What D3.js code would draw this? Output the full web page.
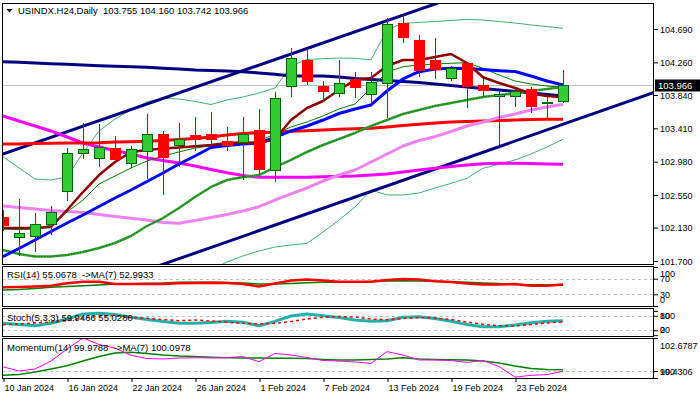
<!DOCTYPE html>
<html><head><meta charset="utf-8">
<script src="https://cdn.jsdelivr.net/npm/d3@7/dist/d3.min.js"></script>
<style>
html,body{margin:0;padding:0;background:#fff;}
svg{display:block;}
text{font-family:"Liberation Sans",Arial,sans-serif;fill:#000;}
</style></head><body>
<svg id="chart" width="700" height="400"></svg>
<script>
// ---------------- DATA ----------------
const symbol = "USINDX.H24,Daily";
const dates = ["2024-01-10","2024-01-11","2024-01-12","2024-01-15","2024-01-16","2024-01-17","2024-01-18","2024-01-19",
  "2024-01-22","2024-01-23","2024-01-24","2024-01-25","2024-01-26","2024-01-29","2024-01-30","2024-01-31",
  "2024-02-01","2024-02-02","2024-02-05","2024-02-06","2024-02-07","2024-02-08","2024-02-09","2024-02-12",
  "2024-02-13","2024-02-14","2024-02-15","2024-02-16","2024-02-19","2024-02-20","2024-02-21","2024-02-22",
  "2024-02-23","2024-02-26","2024-02-27","2024-02-28"];
const open  = [102.258,102.006,102.013,102.173,102.598,103.088,103.024,103.153,102.959,103.109,103.324,103.195,103.311,103.324,103.238,103.225,103.388,102.860,103.955,104.278,103.955,103.861,104.033,103.848,103.990,104.764,104.548,104.278,104.055,104.248,103.968,103.818,103.818,103.913,103.728,103.755];
const high  = [102.357,102.499,102.315,102.409,103.153,103.479,103.466,103.311,103.182,103.595,103.376,103.475,103.560,103.617,103.431,103.552,103.655,103.874,104.441,104.432,104.020,104.291,104.140,104.140,104.828,104.870,104.613,104.578,104.213,104.269,104.055,103.904,103.939,103.939,103.839,104.160];
const low   = [102.087,101.768,101.812,102.035,102.477,103.011,102.908,103.002,102.895,102.753,102.551,102.908,103.122,103.182,103.122,102.744,102.808,102.714,103.818,103.968,103.784,103.818,103.797,103.733,103.539,104.514,104.068,104.042,104.024,103.678,103.818,103.195,103.681,103.611,103.539,103.742];
const close = [102.155,102.057,102.173,102.328,103.088,103.140,103.165,103.011,103.140,103.333,103.031,103.268,103.268,103.268,103.195,103.333,102.882,103.797,104.312,104.011,103.882,103.990,103.939,104.003,104.742,104.578,104.149,104.171,104.184,103.952,103.895,103.852,103.882,103.689,103.745,103.966];

const maNavy    = [104.269,104.261,104.252,104.243,104.235,104.226,104.217,104.209,104.204,104.196,104.184,104.175,104.162,104.155,104.149,104.140,104.123,104.106,104.084,104.084,104.084,104.071,104.052,104.039,104.026,104.013,104.001,103.981,103.962,103.943,103.923,103.904,103.885,103.865,103.846,103.827];
const maRed     = [103.208,103.208,103.214,103.217,103.221,103.221,103.225,103.234,103.238,103.243,103.253,103.266,103.279,103.298,103.324,103.343,103.354,103.363,103.372,103.379,103.388,103.397,103.405,103.410,103.427,103.446,103.462,103.479,103.492,103.498,103.504,103.511,103.517,103.524,103.526,103.526];
const maMagenta = [103.569,103.504,103.440,103.376,103.298,103.221,103.169,103.124,103.079,103.028,102.995,102.963,102.924,102.879,102.838,102.802,102.779,102.779,102.779,102.779,102.787,102.792,102.796,102.808,102.821,102.847,102.873,102.895,102.918,102.937,102.954,102.959,102.959,102.957,102.950,102.946];
const maViolet  = [102.409,102.390,102.370,102.351,102.338,102.325,102.299,102.274,102.250,102.228,102.196,102.186,102.222,102.261,102.299,102.344,102.400,102.486,102.564,102.641,102.731,102.808,102.873,102.976,103.079,103.182,103.253,103.302,103.369,103.440,103.492,103.550,103.595,103.646,103.685,103.720];
const maBlue    = [101.756,101.861,101.971,102.080,102.190,102.293,102.402,102.512,102.615,102.725,102.834,102.950,103.053,103.163,103.189,103.208,103.221,103.292,103.376,103.440,103.517,103.601,103.659,103.711,103.891,104.046,104.140,104.175,104.184,104.181,104.168,104.153,104.142,104.084,104.020,103.968];
const maMaroon  = [102.125,102.125,102.125,102.138,102.357,102.589,102.808,102.976,103.105,103.131,103.150,103.163,103.178,103.195,103.221,103.227,103.217,103.272,103.517,103.672,103.762,103.904,104.033,104.059,104.213,104.291,104.291,104.329,104.368,104.252,104.068,103.994,103.930,103.859,103.827,103.810];
const maGreen   = [102.112,102.106,102.112,102.164,102.332,102.486,102.692,102.796,102.899,102.989,103.053,103.105,103.156,103.182,103.208,103.221,103.247,103.337,103.427,103.492,103.569,103.659,103.723,103.930,104.136,104.204,104.226,104.239,104.248,104.256,104.184,104.097,104.020,103.981,103.955,103.939];
const bbMid     = [101.842,101.790,101.758,101.758,101.777,101.816,101.868,101.932,102.022,102.151,102.254,102.383,102.525,102.654,102.744,102.783,102.808,102.911,103.002,103.105,103.195,103.272,103.350,103.440,103.517,103.595,103.646,103.698,103.736,103.775,103.814,103.839,103.859,103.891,103.917,103.943];
const bbUpper   = [103.044,102.899,102.757,102.744,102.783,103.092,103.376,103.530,103.646,103.749,103.797,103.788,103.756,103.717,103.775,103.814,103.865,103.930,104.213,104.297,104.307,104.316,104.312,104.291,104.677,104.764,104.774,104.787,104.800,104.813,104.806,104.787,104.767,104.742,104.722,104.699];
const bbLower   = [100.639,100.682,100.759,100.772,100.772,100.540,100.360,100.334,100.398,100.553,100.712,100.978,101.294,101.591,101.687,101.765,101.829,101.880,101.906,101.928,102.074,102.228,102.396,102.615,102.551,102.551,102.576,102.641,102.701,102.766,102.895,102.946,103.002,103.079,103.169,103.268];

// trend channel anchors: [bar index, price]
const channelUpper = [[0, 103.079], [27, 105.012]];
const channelLower = [[11, 101.730], [40, 103.823]];

const rsi    = [47.9,48.7,50.0,52.1,58.2,62.3,62.3,56.4,56.4,56.4,56.4,58.2,59.0,59.7,59.0,56.4,50.0,57.7,65.4,67.9,65.4,62.3,62.3,62.3,66.7,69.2,67.9,63.3,61.5,57.7,55.1,55.1,56.4,52.1,52.1,55.0678];
const rsiMa  = [41.0,42.3,44.9,47.9,50.0,52.1,53.8,56.4,57.2,58.2,59.0,60.8,60.8,60.8,60.3,59.0,56.4,56.4,57.7,59.7,60.8,60.8,61.5,62.8,64.1,64.9,64.1,63.3,62.3,60.8,59.0,57.7,55.1,54.6,54.6,52.9933];
const stoch  = [48.9,44.0,39.0,48.9,66.6,87.1,90.0,85.1,73.6,64.5,56.3,48.9,48.9,52.2,57.1,53.0,39.0,57.1,78.9,87.1,80.1,72.7,62.5,57.1,59.6,73.6,76.0,68.6,57.1,44.0,34.9,34.9,41.9,51.4,57.1,59.9466];
const stochSig = [43.2,46.0,50.1,54.3,59.6,70.7,78.9,81.0,72.7,69.5,64.5,59.6,62.5,58.4,53.0,48.9,46.0,48.9,56.3,66.6,73.6,76.9,74.8,66.6,63.7,68.6,72.7,70.7,64.5,54.3,44.8,39.0,37.8,44.0,50.1,55.0280];
const momentum = [100.340,99.999,100.162,100.811,101.786,102.6787,102.151,101.867,101.274,101.014,100.974,101.055,101.079,101.055,101.095,101.168,100.754,101.420,101.298,101.095,100.852,100.811,100.730,100.616,101.574,101.298,100.892,100.892,100.852,100.697,100.852,100.365,99.500,99.650,99.707,99.9788];
const momMa    = [99.650,99.707,99.918,100.162,100.421,100.811,101.176,101.461,101.526,101.420,101.298,101.217,101.168,101.112,101.079,101.055,101.055,101.038,101.030,101.014,100.941,100.892,100.892,100.933,100.974,101.079,100.974,100.941,100.917,100.892,100.811,100.649,100.405,100.202,100.121,100.0978];

const priceTicks = [104.690,104.260,103.840,103.410,102.980,102.550,102.130,101.700];
const rsiTicks = [100,70,30,0];
const rsiLevels = [70,30];
const stochTicks = [100,80,20,0];
const stochLevels = [80,20];
const momTicks = [102.6787,100,99.4306];
const momLevels = [100];
const dateTickIdx = [0,4,8,12,16,20,24,28,32];
const dateTickLabels = ["10 Jan 2024","16 Jan 2024","22 Jan 2024","26 Jan 2024","1 Feb 2024","7 Feb 2024","13 Feb 2024","19 Feb 2024","23 Feb 2024"];

// ---------------- LAYOUT ----------------
const svg = d3.select("#chart");
const X0 = 2, X1 = 654;
const panels = {main:[3,264], rsi:[266,306], stoch:[308,336], mom:[338,378]};
const n = dates.length;
const x = d3.scaleLinear().domain([0, n-1]).range([3, 563]);
const yMain = d3.scaleLinear().domain([101.7, 104.69]).range([261, 29]);
const yRsi = d3.scaleLinear().domain([0,100]).range([306,267]);
const ySto = d3.scaleLinear().domain([0,100]).range([335.2,310.9]);
const yMom = d3.scaleLinear().domain([momTicks[2], momTicks[0]]).range([378,338]);

const defs = svg.append("defs");
Object.entries(panels).forEach(([k,[t,b]])=>{
  defs.append("clipPath").attr("id","clip-"+k).append("rect")
    .attr("x",X0).attr("y",t).attr("width",X1-X0).attr("height",b-t);
});
const layer = k => svg.append("g").attr("clip-path",`url(#clip-${k})`);

function drawLine(g, vals, y, color, width, dash){
  g.append("path").datum(vals)
    .attr("fill","none").attr("stroke",color).attr("stroke-width",width)
    .attr("stroke-linejoin","round")
    .attr("stroke-dasharray", dash || null)
    .attr("d", d3.line().x((d,i)=>x(i)).y(d=>y(d)));
}
function levelLines(g, levels, y){
  g.selectAll(null).data(levels).enter().append("line")
    .attr("x1",X0).attr("x2",X1)
    .attr("y1",d=>Math.round(y(d))+0.5).attr("y2",d=>Math.round(y(d))+0.5)
    .attr("stroke","#c0c0c0").attr("stroke-width",1).attr("stroke-dasharray","3,3");
}

// ---------------- MAIN PANEL ----------------
const gMain = layer("main");
const lastClose = close[n-1];
gMain.append("line").attr("x1",X0).attr("x2",X1)
  .attr("y1",Math.round(yMain(lastClose))+0.5).attr("y2",Math.round(yMain(lastClose))+0.5)
  .attr("stroke","#c0c0c0").attr("stroke-width",1);

drawLine(gMain, bbUpper, yMain, "#3CB371", 1);
drawLine(gMain, bbLower, yMain, "#3CB371", 1);

function channel(anchors){
  const [[i0,v0],[i1,v1]] = anchors;
  const s = (v1-v0)/(i1-i0);
  const a = x.invert(X0), b = x.invert(X1);
  return [[a, v0+s*(a-i0)],[b, v0+s*(b-i0)]];
}
[channelUpper, channelLower].forEach(a=>{
  gMain.append("path").datum(channel(a)).attr("fill","none").attr("stroke","#000080").attr("stroke-width",3)
    .attr("d", d3.line().x(d=>x(d[0])).y(d=>yMain(d[1])));
});

drawLine(gMain, maNavy, yMain, "#000080", 3);
drawLine(gMain, maMagenta, yMain, "#FF00FF", 3);
drawLine(gMain, maRed, yMain, "#FF0000", 3);
drawLine(gMain, maViolet, yMain, "#EE82EE", 3);
drawLine(gMain, bbMid, yMain, "#32A032", 2.5);
drawLine(gMain, bbMid, yMain, "#006400", 1, "1,2");
drawLine(gMain, maGreen, yMain, "#008000", 1);
drawLine(gMain, maBlue, yMain, "#0000FF", 3);
drawLine(gMain, maMaroon, yMain, "#8B0000", 2.5);

const ohlc = dates.map((d,i)=>({i, o:open[i], h:high[i], l:low[i], c:close[i]}));
const cg = gMain.append("g").attr("shape-rendering","crispEdges");
const cEnter = cg.selectAll("g").data(ohlc).enter().append("g");
cEnter.append("line")
  .attr("x1",d=>Math.round(x(d.i))+0.5).attr("x2",d=>Math.round(x(d.i))+0.5)
  .attr("y1",d=>yMain(d.h)).attr("y2",d=>yMain(d.l))
  .attr("stroke",d=>d.c>=d.o ? "#006400" : "#A01818").attr("stroke-width",1);
cEnter.append("rect")
  .attr("x",d=>Math.round(x(d.i))-4.5).attr("width",10)
  .attr("y",d=>yMain(Math.max(d.o,d.c)))
  .attr("height",d=>Math.max(1, yMain(Math.min(d.o,d.c))-yMain(Math.max(d.o,d.c))))
  .attr("fill",d=>d.c>=d.o ? "#32CD32" : "#FF0000")
  .attr("stroke",d=>d.c>=d.o ? "#006400" : "#FF0000").attr("stroke-width",1);

// ---------------- RSI ----------------
const gRsi = layer("rsi");
levelLines(gRsi, rsiLevels, yRsi);
drawLine(gRsi, rsiMa, yRsi, "#008000", 1.5);
drawLine(gRsi, rsi, yRsi, "#FF0000", 2.5);

// ---------------- STOCH ----------------
const gSto = layer("stoch");
levelLines(gSto, stochLevels, ySto);
drawLine(gSto, stoch, ySto, "#20B2AA", 3);
drawLine(gSto, stochSig, ySto, "#FF0000", 1.5, "3,3");

// ---------------- MOMENTUM ----------------
const gMom = layer("mom");
levelLines(gMom, momLevels, yMom);
drawLine(gMom, momMa, yMom, "#008000", 1.5);
drawLine(gMom, momentum, yMom, "#FF00FF", 1);

// ---------------- FRAMES ----------------
Object.values(panels).forEach(([t,b])=>{
  svg.append("rect").attr("x",X0+0.5).attr("y",t+0.5).attr("width",X1-X0-1).attr("height",b-t)
    .attr("fill","none").attr("stroke","#000").attr("stroke-width",1).attr("shape-rendering","crispEdges");
});

// ---------------- AXES ----------------
function rightAxis(scale, ticks, fmt, top, bottom){
  const g = svg.append("g").attr("transform",`translate(${X1},0)`)
    .call(d3.axisRight(scale).tickValues(ticks).tickFormat(fmt).tickSize(4).tickPadding(2).tickSizeOuter(0));
  g.select(".domain").remove();
  g.selectAll(".tick text").style("font-size","9px").style("font-family",'"Liberation Sans",Arial,sans-serif')
    .attr("dy", function(d){
      const yy = scale(d);
      const c = Math.min(Math.max(yy, top+7), bottom-6.5);
      return (c - yy + 3.2) + "px";
    });
  return g;
}
rightAxis(yMain, priceTicks, d3.format(".3f"), 0, 400);
rightAxis(yRsi, rsiTicks, d=>String(d), panels.rsi[0], panels.rsi[1]);
rightAxis(ySto, stochTicks, d=>String(d), panels.stoch[0], panels.stoch[1]);
rightAxis(yMom, momTicks, d=>String(d), panels.mom[0], panels.mom[1]);

// current price box
const py = yMain(lastClose);
svg.append("rect").attr("x",655).attr("y",Math.round(py)-5.5).attr("width",45).attr("height",12).attr("fill","#000");
svg.append("text").attr("x",658).attr("y",py).attr("dy","3.5px").style("font-size","9.5px")
  .style("fill","#fff").text(lastClose.toFixed(3));

// date axis
const gx = svg.append("g").attr("transform",`translate(0,${panels.mom[1]})`)
  .call(d3.axisBottom(x).tickValues(dateTickIdx).tickFormat((d,i)=>dateTickLabels[i]).tickSize(4).tickSizeOuter(0));
gx.select(".domain").remove();
gx.selectAll(".tick line").attr("transform","translate(0.5,0)");
gx.selectAll(".tick text").attr("text-anchor","start").attr("x",1).attr("y",7)
  .style("font-size","9px").style("font-family",'"Liberation Sans",Arial,sans-serif');

// ---------------- TITLES / LEGENDS ----------------
svg.append("path").attr("d","M6.5,9 L12.5,9 L9.5,12.5 Z").attr("fill","#000");
svg.append("text").attr("x",18).attr("y",14).style("font-size","9.5px").style("white-space","pre")
  .text(`${symbol}  ${open[n-1].toFixed(3)} ${high[n-1].toFixed(3)} ${low[n-1].toFixed(3)} ${close[n-1].toFixed(3)}`);
svg.append("text").attr("x",7).attr("y",278).style("font-size","9.5px").style("white-space","pre")
  .text(`RSI(14) ${rsi[n-1].toFixed(4)}  ->MA(7) ${rsiMa[n-1].toFixed(4)}`);
svg.append("text").attr("x",7).attr("y",321).style("font-size","9.5px").style("white-space","pre")
  .text(`Stoch(5,3,3) ${stoch[n-1].toFixed(4)} ${stochSig[n-1].toFixed(4)}`);
svg.append("text").attr("x",7).attr("y",351).style("font-size","9.5px").style("white-space","pre")
  .text(`Momentum(14) ${momentum[n-1].toFixed(4)}  ->MA(7) ${momMa[n-1].toFixed(4)}`);
</script>
</body></html>
